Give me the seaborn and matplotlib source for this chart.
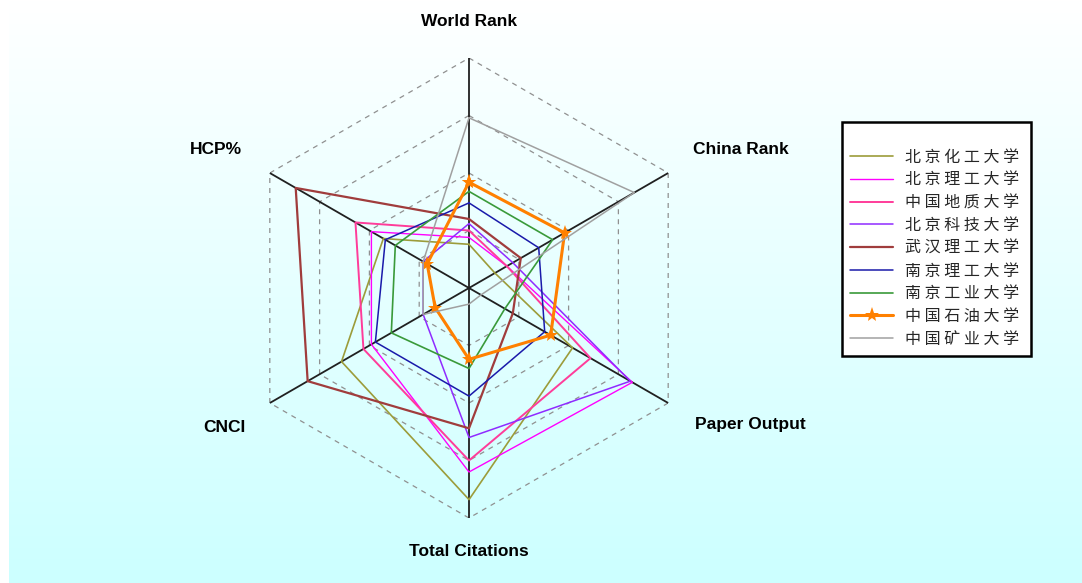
import numpy as np
import pandas as pd
import matplotlib.pyplot as plt
import seaborn as sns

sns.set_style('white')
plt.rcParams['font.family'] = ['Noto Sans CJK SC', 'DejaVu Sans']

# radar axes, clockwise from the top
categories = ['World Rank', 'China Rank', 'Paper Output', 'Total Citations', 'CNCI', 'HCP%']

schools = ['北京化工大学', '北京理工大学', '中国地质大学', '北京科技大学', '武汉理工大学',
           '南京理工大学', '南京工业大学', '中国石油大学', '中国矿业大学']

# values (0-100 scale)
buct = [19, 13, 52, 92, 64, 43]
bit = [22, 19, 82, 80, 49, 49]
cug = [25, 19, 61, 75, 53, 57]
ustb = [28, 22, 81, 65, 23, 23]
whut = [30, 26, 22, 61, 81, 87]
njust = [37, 35, 38, 47, 47, 42]
njtech = [42, 42, 18, 35, 39, 37]
upc = [46, 48, 41, 31, 17, 21]
cumt = [74, 83, 6, 7, 23, 23]
all_vals = [buct, bit, cug, ustb, whut, njust, njtech, upc, cumt]

colors = ['#9C9C3A', '#FF00FF', '#FF3C9A', '#8F2BFF', '#A03C3C', '#1A1AAA', '#3A9A3A', '#FF8000', '#A0A0A0']
widths = [1.2, 1.0, 1.4, 1.1, 1.6, 1.1, 1.2, 2.2, 1.1]
grid_levels = [25, 50, 75, 100]

# build long-form table (closing each polygon)
theta = np.arange(len(categories)) * 2 * np.pi / len(categories)
rows = []
for name, vals in zip(schools, all_vals):
    for i in list(range(len(categories))) + [0]:
        rows.append({'school': name, 'theta': theta[i], 'value': vals[i]})
df = pd.DataFrame(rows)

fig = plt.figure(figsize=(10.82, 5.83), dpi=100)
fig.patch.set_facecolor('white')

# gradient background
bg = fig.add_axes([9 / 1082, 0, 1 - 9 / 1082, 1], zorder=0)
grad = np.linspace(0, 1, 256).reshape(-1, 1)
top = np.array([1.0, 1.0, 1.0])
bottom = np.array([0.80, 1.0, 1.0])
img = top + (bottom - top) * grad[..., None]
bg.imshow(img, aspect='auto', extent=[0, 1, 0, 1], origin='upper')
bg.axis('off')

cx, cy, R = 469, 288, 230
W, H = 1082, 583
ax = fig.add_axes([(cx - R) / W, (H - cy - R) / H, 2 * R / W, 2 * R / H], projection='polar', zorder=1)
ax.set_facecolor('none')
ax.set_theta_offset(np.pi / 2)
ax.set_theta_direction(-1)
ax.set_ylim(0, 100)
ax.grid(False)
ax.spines['polar'].set_visible(False)
ax.set_xticks([])
ax.set_yticks([])

# dashed hexagonal grid
closed = np.append(theta, theta[0])
for lv in grid_levels:
    ax.plot(closed, [lv] * len(closed), color='#909090', lw=0.9, ls=(0, (4, 4)), zorder=1)
# spokes
for t in theta:
    ax.plot([t, t], [0, 100], color='#202020', lw=1.3, zorder=2)

for name, c, lw in zip(schools, colors, widths):
    sub = df[df['school'] == name]
    kw = {}
    if name == '中国石油大学':
        kw = dict(marker='*', markersize=11, markeredgewidth=0)
    sns.lineplot(data=sub, x='theta', y='value', sort=False, estimator=None,
                 color=c, lw=lw, ax=ax, label=name, zorder=3, **kw)
ax.set_xlabel('')
ax.set_ylabel('')

# axis labels
label_pos = [(469, 22), (741, 150), (750, 425), (469, 551), (224, 427), (216, 150)]
for txt, (x, y) in zip(categories, label_pos):
    fig.text(x / W, 1 - y / H, txt, ha='center', va='center', fontsize=12.5,
             fontweight='bold', family='Liberation Sans', color='black')

handles, labels = ax.get_legend_handles_labels()
spaced = [' '.join(l) + ' ' for l in labels]
leg = ax.legend(handles, spaced, loc='upper left', bbox_to_anchor=(842 / W, 1 - 122 / H),
                bbox_transform=fig.transFigure, borderaxespad=0, frameon=True, fancybox=False,
                fontsize=11.5, handlelength=2.7, handletextpad=0.75, labelspacing=0.36,
                borderpad=0.5, title=' ', title_fontsize=9)
leg.get_frame().set_edgecolor('black')
leg.get_frame().set_linewidth(1.8)
leg.get_frame().set_facecolor('white')
leg.get_frame().set_alpha(1)

fig.savefig('out.png', dpi=100)
